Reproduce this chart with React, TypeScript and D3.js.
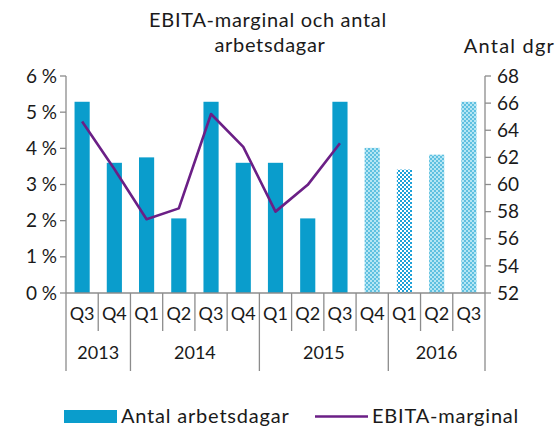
import React from "react";
import * as d3 from "d3";

const quarters = ["Q3", "Q4", "Q1", "Q2", "Q3", "Q4", "Q1", "Q2", "Q3", "Q4", "Q1", "Q2", "Q3"];
const years = ["2013", "2014", "2015", "2016"];
const yearStart = [0, 2, 6, 10, 13]; // index where each year begins (+ end)
// Antal arbetsdagar (right axis)
const workdays = [66.1, 61.6, 62.0, 57.5, 66.1, 61.6, 61.6, 57.5, 66.1, 62.7, 61.1, 62.2, 66.1];
// bar fill kind: solid = actual, the rest are forecast patterns
const barKind = ["solid", "solid", "solid", "solid", "solid", "solid", "solid", "solid", "solid", "light", "vivid", "light", "light"];
// EBITA-marginal in % (left axis), only actual quarters
const margin = [4.74, 3.43, 2.04, 2.34, 4.95, 4.04, 2.25, 2.99, 4.14];
const leftTicks = [0, 1, 2, 3, 4, 5, 6];
const rightTicks = [52, 54, 56, 58, 60, 62, 64, 66, 68];

const W = 557;
const H = 426;
const FONT = "Lato, 'Open Sans', sans-serif";
const TXT = "#1a1a1a";
const AXIS = "#8c8c8c";
const BLUE = "#0a9dcc";
const PURPLE = "#6b1f86";

const dims = { left: 66, right: 485, top: 76, bottom: 293 };

export default function App() {
  const x = d3.scaleBand<number>()
    .domain(d3.range(quarters.length))
    .range([dims.left, dims.right])
    .padding(0);
  const barW = x.bandwidth() * 0.47;
  const yL = d3.scaleLinear().domain([0, 6]).range([dims.bottom, dims.top]);
  const yR = d3.scaleLinear().domain([52, 68]).range([dims.bottom, dims.top]);
  const cx = (i: number) => (x(i) as number) + x.bandwidth() / 2;

  const line = d3.line<number>()
    .x((_, i) => cx(i))
    .y(d => yL(d));

  const boundaryX = (i: number) => (i < quarters.length ? (x(i) as number) : dims.right);

  const fillFor = (k: string) => (k === "solid" ? BLUE : k === "vivid" ? "url(#checkVivid)" : "url(#checkLight)");

  return (
    <svg width={W} height={H} style={{ position: "absolute", left: 0, top: 0, background: "#fff" }}
      fontFamily={FONT}>
      <defs>
        <pattern id="checkVivid" width={4} height={4} patternUnits="userSpaceOnUse">
          <rect width={4} height={4} fill="#ffffff" />
          <rect width={2} height={2} fill="#1ea1d8" />
          <rect x={2} y={2} width={2} height={2} fill="#1ea1d8" />
        </pattern>
        <pattern id="checkLight" width={4} height={4} patternUnits="userSpaceOnUse">
          <rect width={4} height={4} fill="#b5e6f4" />
          <rect width={2} height={2} fill="#5fc0e0" />
          <rect x={2} y={2} width={2} height={2} fill="#5fc0e0" />
        </pattern>
      </defs>

      {/* title */}
      <text x={268} y={27} textAnchor="middle" fontSize={20} letterSpacing={0.7} fill={TXT}>EBITA-marginal och antal</text>
      <text x={270} y={52} textAnchor="middle" fontSize={20} letterSpacing={0.7} fill={TXT}>arbetsdagar</text>
      <text x={555} y={53} textAnchor="end" fontSize={20} letterSpacing={1.2} fill={TXT}>Antal dgr</text>

      {/* bars */}
      {workdays.map((v, i) => (
        <rect key={i} x={cx(i) - barW / 2} y={yR(v)} width={barW} height={yR(52) - yR(v)}
          fill={fillFor(barKind[i])} />
      ))}

      {/* line */}
      <path d={line(margin) || ""} fill="none" stroke={PURPLE} strokeWidth={2.6} strokeLinejoin="round" />

      {/* left axis */}
      <line x1={dims.left} x2={dims.left} y1={dims.top} y2={dims.bottom} stroke={AXIS} strokeWidth={1.3} />
      {leftTicks.map(t => (
        <g key={t} transform={`translate(0,${yL(t)})`}>
          <line x1={dims.left - 6} x2={dims.left} stroke={AXIS} strokeWidth={1.3} />
          <text x={57} y={0} dy="0.35em" textAnchor="end" fontSize={19} fill={TXT}>{t} %</text>
        </g>
      ))}

      {/* right axis */}
      <line x1={dims.right} x2={dims.right} y1={dims.top} y2={dims.bottom} stroke={AXIS} strokeWidth={1.3} />
      {rightTicks.map(t => (
        <g key={t} transform={`translate(0,${yR(t)})`}>
          <line x1={dims.right} x2={dims.right + 6} stroke={AXIS} strokeWidth={1.3} />
          <text x={497} y={0} dy="0.35em" textAnchor="start" fontSize={19} fill={TXT}>{t}</text>
        </g>
      ))}

      {/* category axis */}
      <line x1={dims.left} x2={dims.right} y1={dims.bottom} y2={dims.bottom} stroke={AXIS} strokeWidth={1.3} />
      {d3.range(quarters.length + 1).map(i => {
        const isYear = yearStart.includes(i);
        const xx = boundaryX(i);
        return <line key={i} x1={xx} x2={xx} y1={dims.bottom} y2={isYear ? 371 : 331} stroke={AXIS} strokeWidth={1.3} />;
      })}
      {quarters.map((q, i) => (
        <text key={i} x={cx(i)} y={320} textAnchor="middle" fontSize={18} fill={TXT}>{q}</text>
      ))}
      {years.map((yr, j) => (
        <text key={yr} x={(boundaryX(yearStart[j]) + boundaryX(yearStart[j + 1])) / 2} y={359}
          textAnchor="middle" fontSize={18} fill={TXT}>{yr}</text>
      ))}

      {/* legend */}
      <rect x={64} y={410} width={53} height={13} fill={BLUE} />
      <text x={121} y={423} fontSize={20} letterSpacing={0.8} fill={TXT}>Antal arbetsdagar</text>
      <line x1={315} x2={368} y1={416.5} y2={416.5} stroke={PURPLE} strokeWidth={2.6} />
      <text x={372} y={423} fontSize={20} letterSpacing={0.8} fill={TXT}>EBITA-marginal</text>
    </svg>
  );
}
